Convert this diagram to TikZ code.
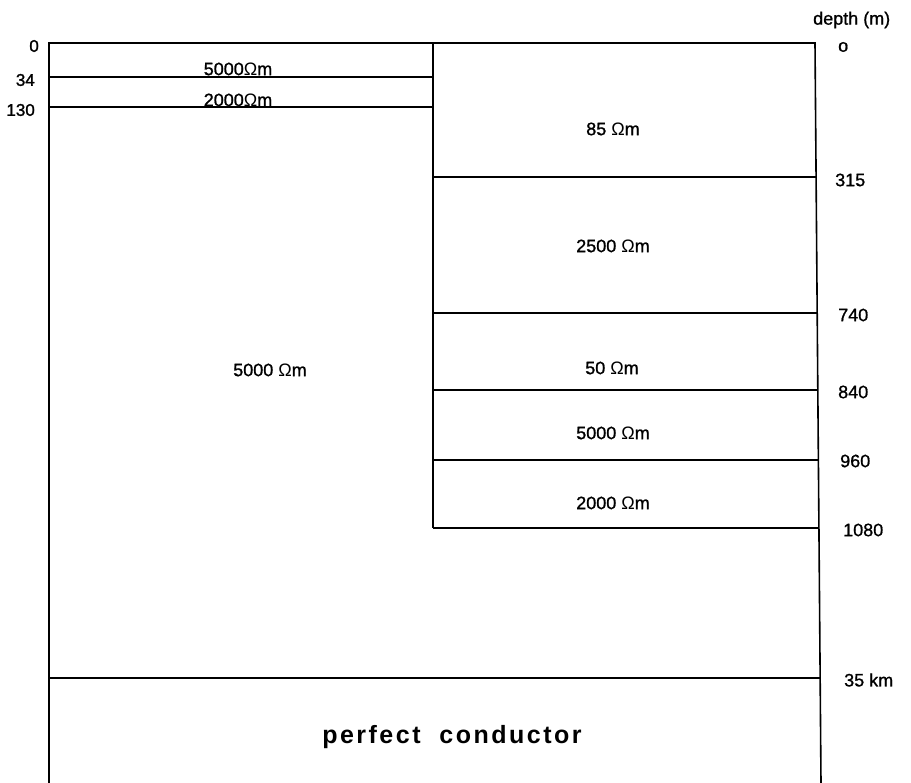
\documentclass[tikz,border=0pt]{standalone}
\usepackage{fontspec}
\setmainfont{Liberation Sans}
\newcommand{\ohm}{{\fontspec{Liberation Sans}Ω}}
\begin{document}
\begin{tikzpicture}[x=1pt,y=-1pt,
  bnd/.style={line width=1.6pt},
  lab/.style={inner sep=0pt,font=\fontsize{18}{20}\selectfont\addfontfeature{FakeBold=1.2}},
  dep/.style={inner sep=0pt,anchor=west,font=\fontsize{18}{20}\selectfont\addfontfeature{FakeBold=1.0}},
  lft/.style={inner sep=0pt,anchor=east,font=\fontsize{17}{19}\selectfont\addfontfeature{FakeBold=1.4}}]
\useasboundingbox (0,0) rectangle (911,783);
% outer frame and columns
\draw[bnd] (49,783) -- (49,43) -- (815,43) -- (821,783);
\draw[bnd] (433,43) -- (433,528);
% left column layers
\draw[bnd] (49,77) -- (433,77);
\draw[bnd] (49,107) -- (433,107);
% right column layers
\draw[bnd] (433,177) -- (816.1,177);
\draw[bnd] (433,313) -- (817.2,313);
\draw[bnd] (433,390) -- (817.8,390);
\draw[bnd] (433,460) -- (818.4,460);
\draw[bnd] (433,528) -- (818.9,528);
% base
\draw[bnd] (49,678) -- (820.2,678);
% resistivity labels
\node[lab] (l1) at (238,69) {5000\ohm m};
\node[lab] (l2) at (238,100) {2000\ohm m};
\node[lab] (l3) at (270,370) {5000 \ohm m};
\node[lab] (r1) at (613,129) {85 \ohm m};
\node[lab] (r2) at (613,246) {2500 \ohm m};
\node[lab] (r3) at (612,368) {50 \ohm m};
\node[lab] (r4) at (613,433) {5000 \ohm m};
\node[lab] (r5) at (613,503) {2000 \ohm m};
% left depth labels
\node[lft] (d0) at (39,46) {0};
\node[lft] (d34) at (35,80) {34};
\node[lft] (d130) at (35,110) {130};
% right depth labels
\node[dep] (title) at (813,20) {depth (m)};
\node[dep] (e0) at (838,47) {o};
\node[dep] (e315) at (835,180) {315};
\node[dep] (e740) at (838,315) {740};
\node[dep] (e840) at (838,392) {840};
\node[dep] (e960) at (840,461) {960};
\node[dep] (e1080) at (843,530) {1080};
\node[dep] (e35) at (844,680) {35 km};
% perfect conductor
\node[inner sep=0pt,anchor=base,font=\fontsize{25}{28}\selectfont\bfseries\addfontfeature{LetterSpace=10}] (pc) at (452,743) {perfect\ \ conductor};
\end{tikzpicture}
\end{document}
